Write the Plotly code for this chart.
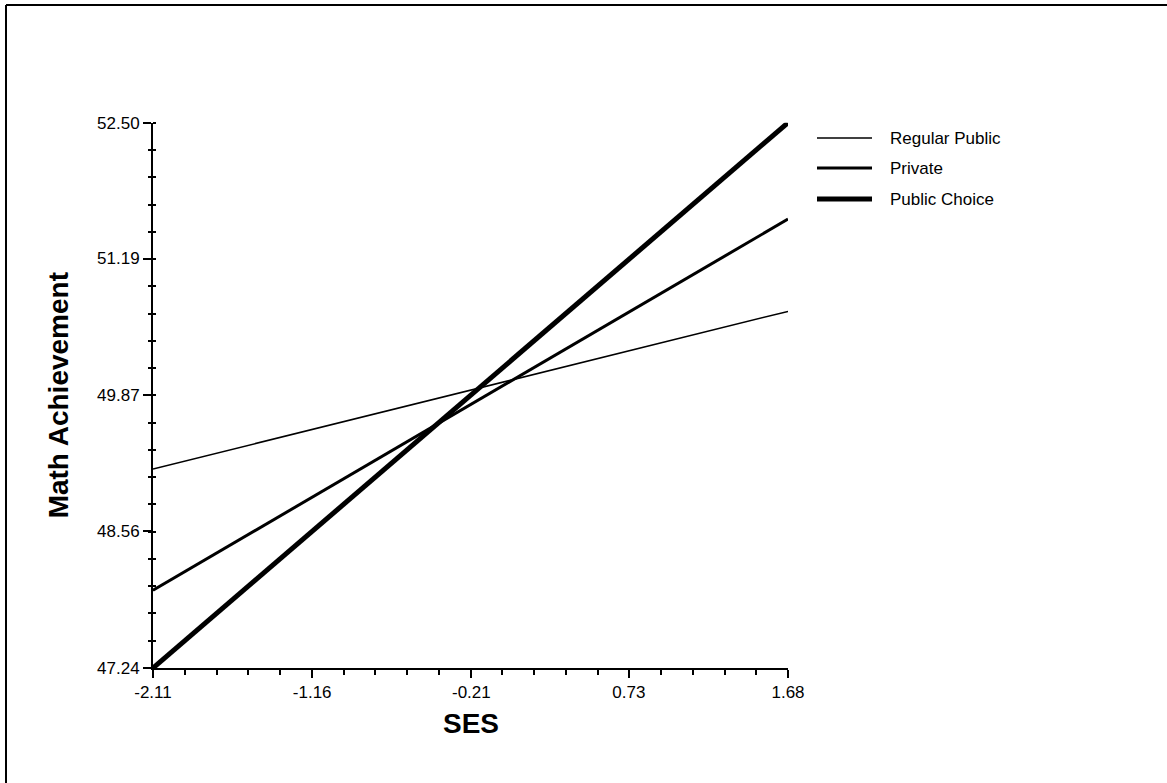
import plotly.graph_objects as go

# ---- data ----
ses_endpoints = [-2.11, 1.68]
series_names = ["Regular Public", "Private", "Public Choice"]
regular_public = [49.16, 50.68]
private = [47.99, 51.57]
public_choice = [47.24, 52.50]

x_tick_labels = ["-2.11", "-1.16", "-0.21", "0.73", "1.68"]
y_tick_labels = ["47.24", "48.56", "49.87", "51.19", "52.50"]

# ---- styling / layout constants ----
W, H = 1167, 783
FONT = "Liberation Sans, Arial, sans-serif"
widths = [1.5, 3, 5]
plot_px = dict(left=153, right=788, top=122.7, bottom=668)
legend_px = dict(x0=817, x1=872, rows=[138, 168, 199], text_x=888)

series_values = [regular_public, private, public_choice]
x_ticks = [float(t) for t in x_tick_labels]
y_ticks = [float(t) for t in y_tick_labels]
x_range = [x_ticks[0], x_ticks[-1]]
y_range = [y_ticks[0], y_ticks[-1]]

fig = go.Figure()

for name, vals, w in zip(series_names, series_values, widths):
    fig.add_trace(go.Scatter(
        x=ses_endpoints, y=vals, mode="lines", name=name,
        line=dict(color="black", width=w), showlegend=False,
        xaxis="x", yaxis="y", hoverinfo="skip"))

# overlay axis for crossing minor ticks on y axis
fig.add_trace(go.Scatter(x=ses_endpoints, y=y_range, mode="lines",
                         line=dict(width=0, color="rgba(0,0,0,0)"),
                         xaxis="x", yaxis="y3", showlegend=False, hoverinfo="skip"))

# legend samples on a pixel-space overlay axis
for name, w, row in zip(series_names, widths, legend_px["rows"]):
    fig.add_trace(go.Scatter(
        x=[legend_px["x0"], legend_px["x1"]], y=[row, row], mode="lines",
        line=dict(color="black", width=w), showlegend=False,
        xaxis="x2", yaxis="y2", hoverinfo="skip"))
    fig.add_annotation(x=legend_px["text_x"], y=row, xref="x2", yref="y2",
                       text=name, showarrow=False, xanchor="left", yanchor="middle",
                       font=dict(family=FONT, size=17, color="black"))

x_dom = [plot_px["left"] / W, plot_px["right"] / W]
y_dom = [1 - plot_px["bottom"] / H, 1 - plot_px["top"] / H]

minor_y = dict(tick0=y_range[0], dtick=(y_range[1] - y_range[0]) / 20,
               tickwidth=2, tickcolor="black", ticklen=3, showgrid=False)

fig.update_layout(
    template="none",
    width=W, height=H,
    margin=dict(l=0, r=0, t=0, b=0, autoexpand=False),
    paper_bgcolor="white", plot_bgcolor="rgba(0,0,0,0)",
    font=dict(family=FONT, size=17, color="black"),
    xaxis=dict(domain=x_dom, range=x_range, tickmode="array", tickvals=x_ticks,
               ticktext=x_tick_labels, ticks="outside", ticklen=8, tickwidth=2,
               tickcolor="black", showline=True, linewidth=2, linecolor="black",
               showgrid=False, zeroline=False, fixedrange=True, automargin=False,
               anchor="y", tickfont=dict(family=FONT, size=17),
               minor=dict(ticks="outside", ticklen=5, tickwidth=2, tickcolor="black",
                          tick0=x_range[0], dtick=(x_range[1] - x_range[0]) / 20,
                          showgrid=False)),
    yaxis=dict(domain=y_dom, range=y_range, tickmode="array", tickvals=y_ticks,
               ticktext=y_tick_labels, ticks="outside", ticklen=8, tickwidth=2,
               tickcolor="black", showline=True, linewidth=2, linecolor="black",
               showgrid=False, zeroline=False, fixedrange=True, automargin=False,
               anchor="x", tickfont=dict(family=FONT, size=17),
               minor=dict(ticks="outside", **minor_y)),
    yaxis3=dict(overlaying="y", anchor="x", range=y_range, showticklabels=False,
                ticks="", tickmode="array", tickvals=y_ticks,
                showline=False, showgrid=False, zeroline=False, fixedrange=True,
                automargin=False, minor=dict(ticks="inside", **minor_y)),
    xaxis2=dict(domain=[0, 1], range=[0, W], visible=False, fixedrange=True,
                anchor="y2", automargin=False),
    yaxis2=dict(domain=[0, 1], range=[H, 0], visible=False, fixedrange=True,
                anchor="x2", automargin=False),
    showlegend=False,
)

# axis titles
fig.add_annotation(x=(plot_px["left"] + plot_px["right"]) / 2, y=723, xref="x2", yref="y2",
                   text="<b>SES</b>", showarrow=False, xanchor="center", yanchor="middle",
                   font=dict(family=FONT, size=28, color="black"))
fig.add_annotation(x=58, y=(plot_px["top"] + plot_px["bottom"]) / 2, xref="x2", yref="y2",
                   text="<b>Math Achievement</b>", showarrow=False, textangle=-90,
                   xanchor="center", yanchor="middle",
                   font=dict(family=FONT, size=28, color="black"))

# outer frame (top and left edges visible)
fig.add_shape(type="line", xref="paper", yref="paper", x0=6 / W, x1=1.0, y0=1 - 5 / H, y1=1 - 5 / H,
              line=dict(color="black", width=2))
fig.add_shape(type="line", xref="paper", yref="paper", x0=6 / W, x1=6 / W, y0=0, y1=1 - 5 / H,
              line=dict(color="black", width=2))

fig.write_html("out.html")
